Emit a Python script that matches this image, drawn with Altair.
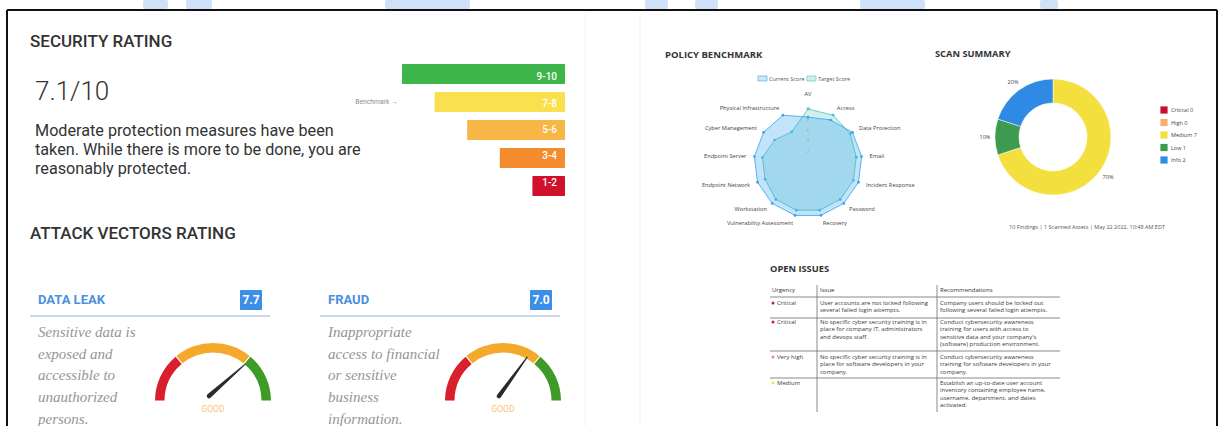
import math
import altair as alt
import pandas as pd

# ======================= DATA =======================
rating_ranges = ["9-10", "7-8", "5-6", "3-4", "1-2"]
rating_upper = [10, 8, 6, 4, 2]
rating_colors = ["#3db54a", "#f8e04e", "#f7b646", "#f48b2d", "#d0112b"]
security_score = "7.1/10"
security_lines = [
    "Moderate protection measures have been",
    "taken. While there is more to be done, you are",
    "reasonably protected.",
]

vector_names = ["DATA LEAK", "FRAUD"]
vector_scores = [7.7, 7.0]
vector_verdicts = ["GOOD", "GOOD"]
vector_desc = [
    ["Sensitive data is", "exposed and", "accessible to", "unauthorized", "persons."],
    ["Inappropriate", "access to financial", "or sensitive", "business", "information."],
]
gauge_band_start = [0.0, 2.8, 7.2]
gauge_band_end = [2.8, 7.2, 10.0]
gauge_band_colors = ["#d81f2b", "#f4a92b", "#3e9b27"]

radar_axes = ["AV", "Access", "Data Protection", "Email", "Incident Response", "Password",
              "Recovery", "Vulnerability Assessment", "Workstation", "Endpoint Network",
              "Endpoint Server", "Cyber Management", "Physical Infrastructure"]
radar_current = [8.5, 9.0, 10, 10, 10, 10, 10, 10, 10, 10, 10, 10, 10]
radar_target = [10, 10, 9.5, 9, 9, 9, 9, 9, 9, 8.5, 8.5, 7.5, 6.5]
radar_series = ["Current Score", "Target Score"]
radar_colors = ["#36a2eb", "#4bc0c0"]
radar_ticks = [2, 4, 6, 8, 10]

scan_levels = ["Critical", "High", "Medium", "Low", "Info"]
scan_counts = [0, 0, 7, 1, 2]
scan_colors = ["#c8102e", "#f7b06c", "#f3e03f", "#3c9b4e", "#2f8ae6"]
scan_footer = "10 Findings | 1 Scanned Assets | May 22 2022, 10:48 AM EDT"

issue_headers = ["Urgency", "Issue", "Recommendations"]
issue_urgency = ["Critical", "Critical", "Very high", "Medium"]
issue_dot_colors = ["#c2185b", "#c2185b", "#f08a7a", "#f3e03f"]
issue_text = [
    "User accounts are not locked following\nseveral failed login attempts.",
    "No specific cyber security training is in\nplace for company IT, administrators\nand devops staff.",
    "No specific cyber security training is in\nplace for software developers in your\ncompany.",
    "",
]
issue_recs = [
    "Company users should be locked out\nfollowing several failed login attempts.",
    "Conduct cybersecurity awareness\ntraining for users with access to\nsensitive data and your company's\n(software) production environment.",
    "Conduct cybersecurity awareness\ntraining for software developers in your\ncompany.",
    "Establish an up-to-date user account\ninventory containing employee name,\nusername, department, and dates\nactivated.",
]

# ======================= LAYOUT =======================
W, H = 1220, 426
BAR_RIGHT, BAR_LEFT10, BAR_TOP, BAR_BOTTOM = 565, 402, 64, 196
GAUGE_CX = [213, 503]
GAUGE_CY, GAUGE_R, GAUGE_IR, NEEDLE_LEN = 401, 58, 48.5, 48
DESC_X = [38, 328]
DESC_Y0, DESC_DY = 332, 21.7
RCX, RCY, RR = 808, 163, 54
DCX, DCY, DR, DIR, DLR = 1053, 137, 58, 34, 68
ROW_Y = [303, 322, 357, 383]
LINE_H = 7.4

ONE = pd.DataFrame({"k": [0]})
layers = []


def label(text, x, y, size, color="#333333", weight="normal", font="Roboto",
          align="left", style="normal", baseline="middle"):
    return alt.Chart(pd.DataFrame({"t": [text]})).mark_text(
        x=x, y=y, fontSize=size, color=color, fontWeight=weight, font=font,
        align=align, fontStyle=style, baseline=baseline
    ).encode(text="t:N")


def rule(x1, y1, x2, y2, color, width):
    return alt.Chart(ONE).mark_rule(color=color, strokeWidth=width).encode(
        x=alt.value(x1), y=alt.value(y1), x2=alt.value(x2), y2=alt.value(y2))


def rect(x1, y1, x2, y2, color, **kw):
    return alt.Chart(ONE).mark_rect(color=color, **kw).encode(
        x=alt.value(x1), y=alt.value(y1), x2=alt.value(x2), y2=alt.value(y2))


def PX(f):
    return alt.X(f, scale=None, stack=None)


def PY(f):
    return alt.Y(f, scale=None, stack=None)


# ---- watermark shapes above frame ----
for (a, b) in [(143, 168), (186, 212), (385, 470), (645, 668), (695, 718), (860, 925), (1040, 1058)]:
    layers.append(rect(a, 0, b, 9, "#cfe0f9", cornerRadius=2))

# ---- frame ----
layers += [
    rule(7, 10, 1217, 10, "#111111", 2),
    rule(7, 10, 7, H, "#111111", 2),
    rule(1217, 10, 1217, H, "#111111", 2),
    rule(585, 14, 585, H, "#f3f3f3", 1),
    rule(640, 14, 640, H, "#f3f3f3", 1),
]

# ---- SECURITY RATING ----
layers.append(label("SECURITY RATING", 30, 42, 17, weight=500))
layers.append(label(security_score, 35, 92, 26, weight=300))
for k, s in enumerate(security_lines):
    layers.append(label(s, 35, 131 + 19 * k, 16.2))

bar_df = pd.DataFrame({"range": rating_ranges, "upper": rating_upper, "color": rating_colors})
bx = alt.Scale(domain=[0, 10], range=[BAR_RIGHT, BAR_LEFT10])
by = alt.Scale(domain=rating_ranges, range=[BAR_TOP, BAR_BOTTOM], paddingInner=0.29, paddingOuter=0)
layers.append(alt.Chart(bar_df).mark_bar(cornerRadius=1).encode(
    x=alt.X("upper:Q", scale=bx, axis=None, stack=None), x2=alt.datum(0),
    y=alt.Y("range:N", scale=by, axis=None, sort=None),
    color=alt.Color("color:N", scale=None)))
layers.append(alt.Chart(bar_df).mark_text(
    align="right", x=BAR_RIGHT - 8, color="white", fontSize=10, fontWeight=500, font="Roboto"
).encode(y=alt.Y("range:N", scale=by, axis=None, sort=None), text="range:N"))
layers.append(label("Benchmark \u2192", 398, 102, 6.8, color="#8c8c8c", align="right"))

# ---- ATTACK VECTORS ----
layers.append(label("ATTACK VECTORS RATING", 30, 234, 17, weight=500))
for gi, name in enumerate(vector_names):
    x0 = [30, 320][gi]
    layers.append(label(name, DESC_X[gi], 300, 13, color="#4a8fe0", weight="bold"))
    bxl = [240, 530][gi]
    layers.append(rect(bxl, 290, bxl + 22, 310, "#3c8ee6", cornerRadius=1))
    layers.append(label(f"{vector_scores[gi]:.1f}", bxl + 11, 300, 12, color="white",
                        weight="bold", align="center"))
    layers.append(rule(x0, 316, x0 + 240, 316, "#c8d6e8", 2))
    for k, s in enumerate(vector_desc[gi]):
        layers.append(label(s, DESC_X[gi], DESC_Y0 + DESC_DY * k, 15, color="#959595",
                            font="Liberation Serif", style="italic"))
    layers.append(label(vector_verdicts[gi], GAUGE_CX[gi], 409, 8.5, color="#f6c577",
                        align="center"))

g_rows = []
for gi, name in enumerate(vector_names):
    for s, e, c in zip(gauge_band_start, gauge_band_end, gauge_band_colors):
        g_rows.append({"g": name, "start": s, "end": e, "color": c, "cx": GAUGE_CX[gi]})
gdf = pd.DataFrame(g_rows)
theta_scale = alt.Scale(domain=[0, 10], range=[-math.pi / 2, math.pi / 2])
layers.append(alt.Chart(gdf).mark_arc(radius=GAUGE_R, innerRadius=GAUGE_IR, padAngle=0.015).encode(
    theta=alt.Theta("start:Q", scale=theta_scale, stack=None), theta2="end:Q",
    x=PX("cx:Q"), y=alt.value(GAUGE_CY),
    color=alt.Color("color:N", scale=None)))

n_rows = []
for gi, name in enumerate(vector_names):
    for t in [0.0, 1.0]:
        n_rows.append({"g": name, "score": vector_scores[gi], "cx": GAUGE_CX[gi], "t": t})
ndf = pd.DataFrame(n_rows)
layers.append(alt.Chart(ndf).transform_calculate(
    a="PI * (1 - datum.score / 10)",
).transform_calculate(
    nx=f"datum.cx - 4 + datum.t * {NEEDLE_LEN} * cos(datum.a)",
    ny=f"{GAUGE_CY} - 5 - datum.t * {NEEDLE_LEN} * sin(datum.a)",
).mark_trail(color="#2b2b2b").encode(
    x=PX("nx:Q"), y=PY("ny:Q"),
    detail="g:N", order="t:Q",
    size=alt.Size("t:Q", scale=alt.Scale(domain=[0, 1], range=[4.5, 1.0]), legend=None)))

# ---- POLICY BENCHMARK (radar) ----
layers.append(label("POLICY BENCHMARK", 665, 55, 9.5, weight="bold", font="Open Sans"))
rows = []
for s, vals in zip(radar_series, [radar_current, radar_target]):
    for i, (ax, v) in enumerate(zip(radar_axes, vals)):
        rows.append({"series": s, "i": i, "axis": ax, "value": v})
rdf = pd.DataFrame(rows)
N = len(radar_axes)
for s, col, op in [(radar_series[1], radar_colors[1], 0.25), (radar_series[0], radar_colors[0], 0.3)]:
    base = alt.Chart(rdf).transform_filter(alt.datum.series == s).transform_calculate(
        a=f"2*PI*datum.i/{N}").transform_calculate(
        px=f"{RCX} + {RR}*datum.value/10*sin(datum.a)",
        py=f"{RCY} - {RR}*datum.value/10*cos(datum.a)")
    layers.append(base.mark_line(interpolate="linear-closed", fill=col, fillOpacity=op,
                                 stroke=col, strokeWidth=0.8).encode(
        x=PX("px:Q"), y=PY("py:Q"), order="i:Q"))
    layers.append(base.mark_circle(size=7, color=col, opacity=1).encode(
        x=PX("px:Q"), y=PY("py:Q")))

tdf = pd.DataFrame({"tick": radar_ticks})
layers.append(alt.Chart(tdf).transform_calculate(
    py=f"{RCY} - {RR}*datum.tick/10", lab="datum.tick + ''").mark_text(
    x=RCX, fontSize=4, color="#999999", font="Open Sans").encode(
    y=PY("py:Q"), text="lab:N"))

adf = pd.DataFrame({"axis": radar_axes, "i": list(range(N))})
abase = alt.Chart(adf).transform_calculate(a=f"2*PI*datum.i/{N}").transform_calculate(
    lr="datum.i == 0 ? 69 : 62").transform_calculate(
    lx=f"{RCX} + datum.lr*sin(datum.a)", ly=f"{RCY} - datum.lr*cos(datum.a)", sa="sin(datum.a)")
for cond, al in [("datum.sa > 0.1", "left"), ("datum.sa < -0.1", "right"),
                 ("abs(datum.sa) <= 0.1", "center")]:
    layers.append(abase.transform_filter(cond).mark_text(
        align=al, fontSize=5.7, color="#444444", font="Open Sans").encode(
        x=PX("lx:Q"), y=PY("ly:Q"), text="axis:N"))

# radar legend
for k, (s, col) in enumerate(zip(radar_series, radar_colors)):
    x0 = [758, 807][k]
    layers.append(rect(x0, 76, x0 + 9, 81, col, fillOpacity=0.25, stroke=col, strokeWidth=0.6))
    layers.append(label(s, x0 + 11, 78.5, 5.5, color="#555555", font="Open Sans"))

# ---- SCAN SUMMARY (donut) ----
layers.append(label("SCAN SUMMARY", 935, 54, 9.3, weight="bold", font="Open Sans"))
sdf = pd.DataFrame({"level": scan_levels, "count": scan_counts, "o": list(range(len(scan_levels)))})
cscale = alt.Scale(domain=scan_levels, range=scan_colors)
layers.append(alt.Chart(sdf).mark_arc(radius=DR, innerRadius=DIR, stroke="white", strokeWidth=0.5).encode(
    theta=alt.Theta("count:Q", stack=True), order=alt.Order("o:Q"),
    color=alt.Color("level:N", scale=cscale, legend=None),
    x=alt.value(DCX), y=alt.value(DCY)))
layers.append(alt.Chart(sdf).transform_joinaggregate(total="sum(count)").transform_calculate(
    pct="round(datum.count / datum.total * 100) + '%'").transform_filter("datum.count > 0").mark_text(
    radius=DLR, fontSize=5.5, color="#444444", font="Open Sans").encode(
    theta=alt.Theta("count:Q", stack=True), order=alt.Order("o:Q"), text="pct:N",
    x=alt.value(DCX), y=alt.value(DCY)))
ly_scale = alt.Scale(domain=scan_levels, range=[110, 160], padding=0)
layers.append(alt.Chart(sdf).mark_square(size=52, opacity=1, x=1164).encode(
    y=alt.Y("level:N", scale=ly_scale, axis=None),
    color=alt.Color("level:N", scale=cscale, legend=None)))
layers.append(alt.Chart(sdf).transform_calculate(lab="datum.level + ' ' + datum.count").mark_text(
    x=1171, align="left", fontSize=5.5, color="#444444", font="Open Sans").encode(
    y=alt.Y("level:N", scale=ly_scale, axis=None), text="lab:N"))
layers.append(label(scan_footer, 1087, 227, 5.5, color="#555555", font="Open Sans", align="center"))

# ---- OPEN ISSUES table ----
layers.append(label("OPEN ISSUES", 770, 269, 9.3, weight="bold", font="Open Sans"))
for h, hx in zip(issue_headers, [772, 820, 940]):
    layers.append(label(h, hx, 290, 6, color="#333333", font="Open Sans"))
for yy in [297, 318, 351, 378]:
    layers.append(rule(770, yy, 1060, yy, "#6d6d6d", 0.8))
for xx in [817, 937]:
    layers.append(rule(xx, 285, xx, 412, "#6d6d6d", 0.8))
idf = pd.DataFrame({"urg": issue_urgency, "issue": issue_text, "rec": issue_recs,
                    "dot": issue_dot_colors, "y": ROW_Y})
itxt = dict(fontSize=6, color="#3a3a3a", font="Open Sans", align="left", baseline="middle",
            lineBreak="\n", lineHeight=LINE_H)
layers.append(alt.Chart(idf).mark_circle(size=9, x=773, opacity=1).encode(
    y=PY("y:Q"), color=alt.Color("dot:N", scale=None)))
layers.append(alt.Chart(idf).mark_text(x=777, **itxt).encode(y=PY("y:Q"), text="urg:N"))
layers.append(alt.Chart(idf).mark_text(x=820, **itxt).encode(y=PY("y:Q"), text="issue:N"))
layers.append(alt.Chart(idf).mark_text(x=940, **itxt).encode(y=PY("y:Q"), text="rec:N"))

chart = alt.layer(*layers).resolve_scale(
    x="independent", y="independent", color="independent", theta="independent",
    size="independent"
).properties(width=W, height=H, padding=0, background="white").configure_view(stroke=None)

chart.save("out.html", embed_options={"renderer": "svg", "actions": False})
